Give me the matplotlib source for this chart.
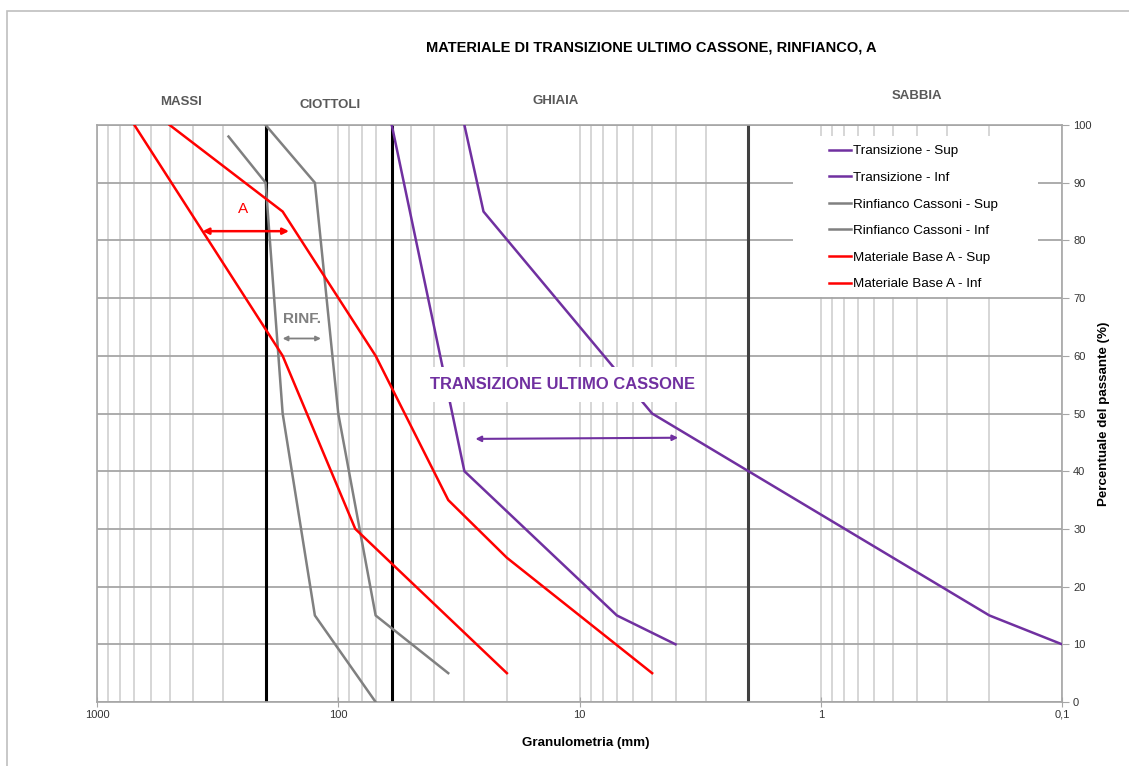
import numpy as np
import matplotlib
matplotlib.use("Agg")
import matplotlib.pyplot as plt
from matplotlib.patches import Rectangle
from matplotlib.ticker import FixedLocator, NullFormatter

plt.rcParams['font.family'] = ['Liberation Sans', 'DejaVu Sans']

# curve granulometriche (diametro mm, % passante)
trans_sup_x = [30, 25, 5, 0.2, 0.1]
trans_sup_y = [100, 85, 50, 15, 10]
trans_inf_x = [60, 30, 7, 4]
trans_inf_y = [100, 40, 15, 10]
rinf_sup_x = [200, 125, 100, 70, 35]
rinf_sup_y = [100, 90, 50, 15, 5]
rinf_inf_x = [285, 200, 170, 125, 70]
rinf_inf_y = [98, 90, 50, 15, 0]
base_sup_x = [500, 170, 70, 35, 20, 5]
base_sup_y = [100, 85, 60, 35, 25, 5]
base_inf_x = [700, 170, 85, 20]
base_inf_y = [100, 60, 30, 5]

# limiti classi granulometriche
limiti = [200, 60, 2]
limiti_col = ['black', 'black', '#404040']
classi = ['MASSI', 'CIOTTOLI', 'GHIAIA', 'SABBIA']
classi_x = [449, 108, 12.6, 0.40]
classi_y = [1.040, 1.035, 1.042, 1.050]

xticks = [1000, 100, 10, 1, 0.1]
xtick_labels = ['1000', '100', '10', '1', '0,1']
yticks = list(range(0, 101, 10))

PURPLE = '#7030A0'
RED = '#FF0000'
GRAY = '#808080'

fig = plt.figure(figsize=(11.29, 7.66), dpi=100)
ax = fig.add_axes([97/1129, 64/766, 965/1129, 577/766])

ax.set_xscale('log')
ax.set_xlim(1000, 0.1)
ax.set_ylim(0, 100)
ax.set_axisbelow(True)

minor = [m * 10.0**e for e in range(-1, 3) for m in range(2, 10)]
ax.xaxis.set_major_locator(FixedLocator(xticks))
ax.set_xticklabels(xtick_labels)
ax.xaxis.set_minor_locator(FixedLocator(minor))
ax.xaxis.set_minor_formatter(NullFormatter())
ax.set_yticks(yticks)

ax.grid(True, axis='x', which='both', color='#d0d0d0', lw=1.2)
ax.grid(True, axis='y', which='major', color='#a6a6a6', lw=1.3)

ax.yaxis.tick_right()
ax.yaxis.set_label_position('right')
ax.tick_params(axis='y', which='major', direction='out', length=5, color='#a6a6a6',
               labelsize=8, labelcolor='#333333', pad=3)
ax.tick_params(axis='x', which='major', direction='inout', length=7, color='#a6a6a6',
               labelsize=8, labelcolor='#333333', pad=2)
ax.tick_params(axis='x', which='minor', length=0)
for s in ax.spines.values():
    s.set_color('#a6a6a6')
    s.set_linewidth(1.2)

for xv, c in zip(limiti, limiti_col):
    ax.axvline(xv, color=c, lw=2.2, zorder=2)

lw = 1.8
ax.plot(trans_sup_x, trans_sup_y, color=PURPLE, lw=lw, label='Transizione - Sup', zorder=3)
ax.plot(trans_inf_x, trans_inf_y, color=PURPLE, lw=lw, label='Transizione - Inf', zorder=3)
ax.plot(rinf_sup_x, rinf_sup_y, color=GRAY, lw=lw, label='Rinfianco Cassoni - Sup', zorder=3)
ax.plot(rinf_inf_x, rinf_inf_y, color=GRAY, lw=lw, label='Rinfianco Cassoni - Inf', zorder=3)
ax.plot(base_sup_x, base_sup_y, color=RED, lw=lw, label='Materiale Base A - Sup', zorder=3)
ax.plot(base_inf_x, base_inf_y, color=RED, lw=lw, label='Materiale Base A - Inf', zorder=3)

# sfondo bianco della legenda
ax.add_patch(Rectangle((0.721, 0.702), 0.254, 0.279, transform=ax.transAxes,
                       facecolor='white', edgecolor='none', zorder=1))
leg = ax.legend(loc='upper left', bbox_to_anchor=(0.752, 0.977), frameon=False,
                fontsize=9.7, handlelength=1.6, handletextpad=0.15,
                labelspacing=1.05, borderpad=0)

# annotazioni
ax.annotate('', xy=(160, 81.6), xytext=(365, 81.6),
            arrowprops=dict(arrowstyle='<|-|>', color=RED, lw=1.8,
                            mutation_scale=9, shrinkA=0, shrinkB=0), zorder=4)
ax.text(248, 85.4, 'A', color=RED, fontsize=11, ha='center', va='center', zorder=4)

ax.annotate('', xy=(118, 63), xytext=(170, 63),
            arrowprops=dict(arrowstyle='<|-|>', color=GRAY, lw=1.3,
                            mutation_scale=7, shrinkA=0, shrinkB=0), zorder=4)
ax.text(142, 66.3, 'RINF.', color=GRAY, fontsize=11, fontweight='bold',
        ha='center', va='center', zorder=4)

ax.annotate('', xy=(3.9, 45.8), xytext=(27, 45.6),
            arrowprops=dict(arrowstyle='<|-|>', color=PURPLE, lw=1.5,
                            mutation_scale=8, shrinkA=0, shrinkB=0), zorder=4)
ax.text(11.8, 55.0, 'TRANSIZIONE ULTIMO CASSONE', color=PURPLE, fontsize=11.9,
        fontweight='bold', ha='center', va='center', zorder=5,
        bbox=dict(boxstyle='square,pad=0.6', facecolor='white', edgecolor='none'))

for name, xv, yv in zip(classi, classi_x, classi_y):
    ax.text(xv, yv, name, transform=ax.get_xaxis_transform(), ha='center', va='center',
            fontsize=9.5, fontweight='bold', color='#595959')

ax.set_xlabel('Granulometria (mm)', fontsize=9.6, fontweight='bold')
ax.xaxis.set_label_coords(0.506, -0.060)
ax.set_ylabel('Percentuale del passante (%)', fontsize=9.6, fontweight='bold')
ax.yaxis.set_label_coords(1.037, 0.5)

fig.text(651/1129, 1 - 48/766, 'MATERIALE DI TRANSIZIONE ULTIMO CASSONE, RINFIANCO, A',
         ha='center', va='center', fontsize=10.5, fontweight='bold')

# cornice esterna
fig.add_artist(Rectangle((7/1129, -0.5), 2, 0.5 + (766 - 11)/766, transform=fig.transFigure,
                         fill=False, edgecolor='#bfbfbf', lw=1.2))

fig.savefig('out.png', dpi=100)
